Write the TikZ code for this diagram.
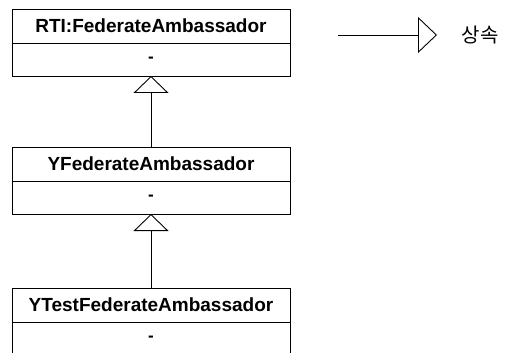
\documentclass[tikz,border=0pt]{standalone}
\usepackage{fontspec}
\setmainfont{Liberation Sans}
\newfontfamily\krfont{Noto Sans CJK KR}
\usetikzlibrary{arrows.meta, positioning}
\tikzstyle{classhead} = [rectangle, draw=black, line width=0.8pt, minimum width=278pt, minimum height=34pt, inner sep=0pt, outer sep=0pt, text centered, font=\bfseries\fontsize{19}{22}\selectfont]
\tikzstyle{classbody} = [rectangle, draw=black, line width=0.8pt, minimum width=278pt, minimum height=33pt, inner sep=0pt, outer sep=0pt, text centered, font=\bfseries\fontsize{17}{20}\selectfont]
\tikzstyle{inherit} = [line width=0.9pt, -{Triangle[open, width=35pt, length=17pt, line width=0.9pt]}]

\begin{document}
\begin{tikzpicture}[x=1pt, y=-1pt]
\clip (0,0) rectangle (507,353);

% Classes
\node (rti) [classhead] at (151,26) {RTI:FederateAmbassador};
\node (rtibody) [classbody, below=0pt of rti] {-};

\node (yfed) [classhead] at (151,164) {YFederateAmbassador};
\node (yfedbody) [classbody, below=0pt of yfed] {-};

\node (ytest) [classhead] at (151,305) {YTestFederateAmbassador};
\node (ytestbody) [classbody, below=0pt of ytest] {-};

% Legend
\coordinate (legstart) at (338,35);
\coordinate (legend) at (437,35);
\node (inh) at (480,35) {\krfont\fontsize{20}{24}\selectfont 상속};

% Arrows
\draw [inherit] (yfed) -- (rtibody);
\draw [inherit] (ytest) -- (yfedbody);
\draw [line width=0.9pt, -{Triangle[open, width=36pt, length=19pt, line width=0.9pt]}] (legstart) -- (legend);

\end{tikzpicture}
\end{document}
